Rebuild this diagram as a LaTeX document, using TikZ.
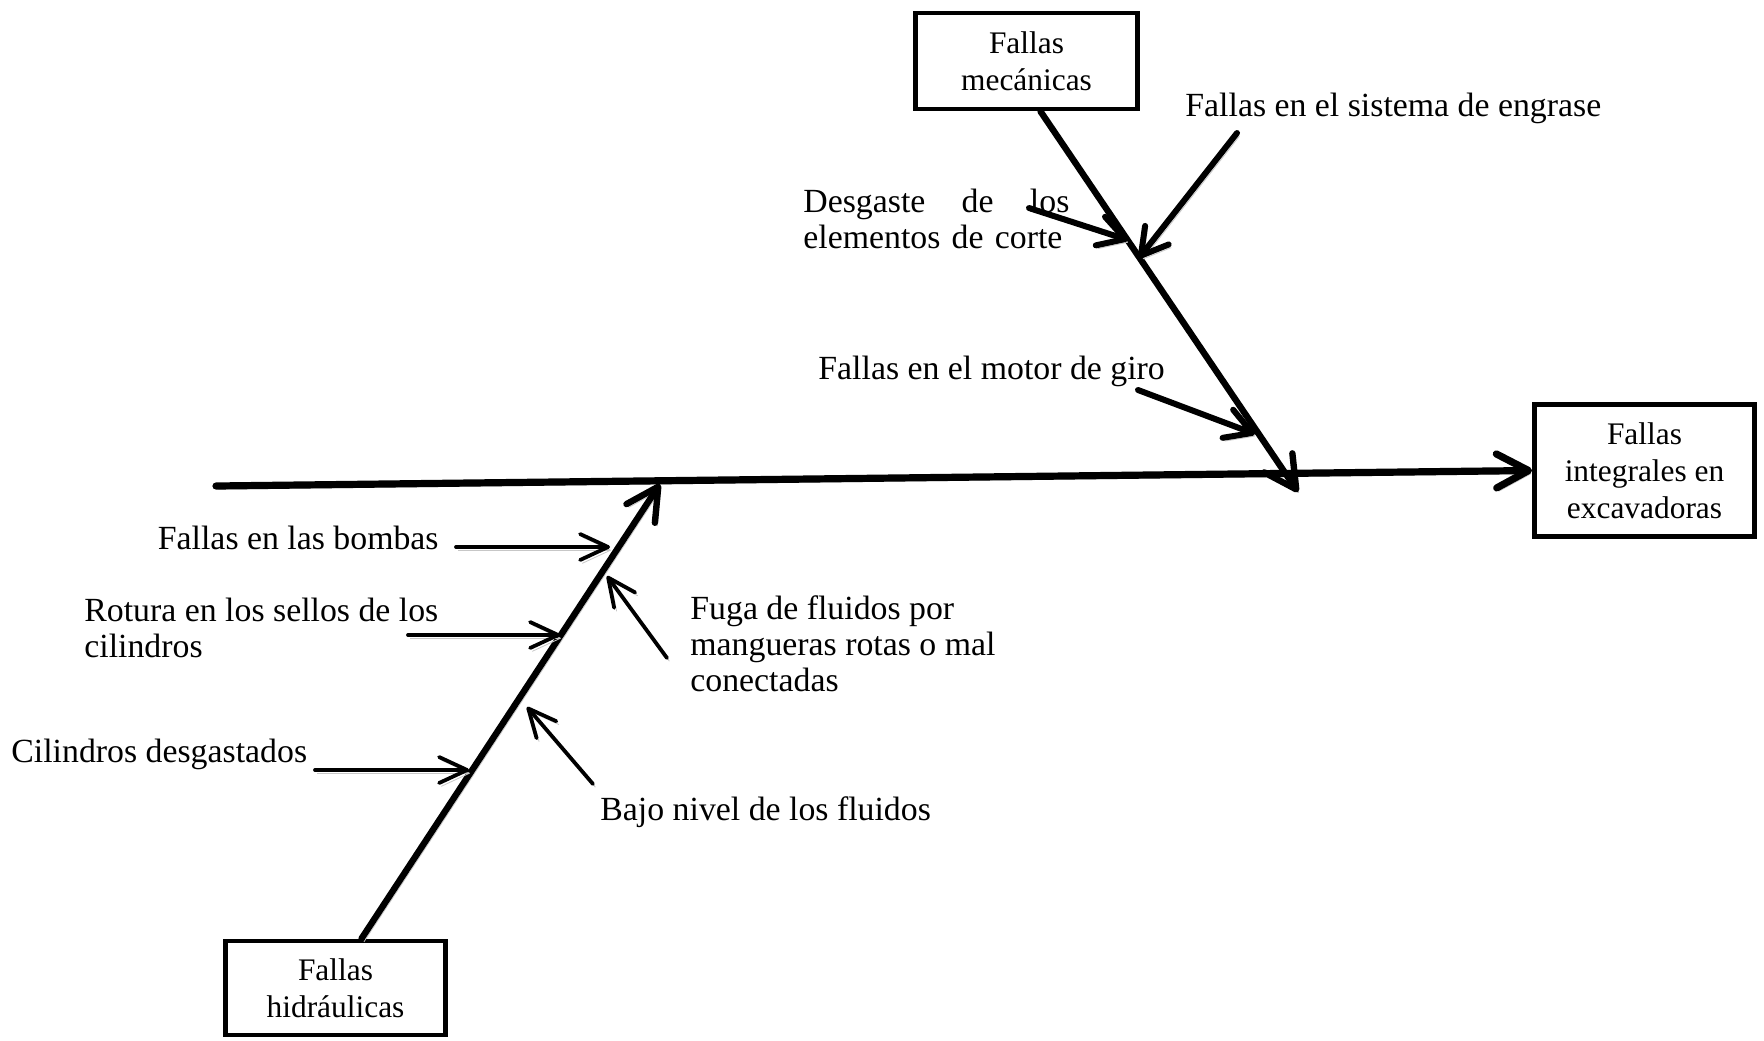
\documentclass[tikz,border=0pt]{standalone}
\usepackage{fontspec}
\setmainfont{Liberation Serif}
\usetikzlibrary{arrows.meta,calc}

\tikzset{
  box/.style={draw, line width=2.4pt, inner sep=0pt, align=center,
    font=\fontsize{15.7}{18.5}\selectfont},
  lbl/.style={inner sep=0pt, anchor=west, align=left,
    font=\fontsize{16.9}{18}\selectfont},
  shade/.style={preaction={draw=black!22, transform canvas={xshift=1.2pt, yshift=-1.6pt}}},
  spine/.style={shade, line width=3.6pt, line cap=round,
    -{Straight Barb[round, length=16pt, width=17pt]}},
  bone/.style={shade, line width=3.2pt, line cap=round,
    -{Straight Barb[round, length=16pt, width=17pt]}},
  cause/.style={shade, line width=3pt, line cap=round,
    -{Straight Barb[round, length=13pt, width=15pt]}},
  subcause/.style={shade, line width=1.9pt, line cap=round,
    -{Straight Barb[round, length=14pt, width=13pt]}},
}

\begin{document}
\begin{tikzpicture}[x=0.5pt, y=-0.5pt]
  \useasboundingbox[fill=white] (0,0) rectangle (1764,1040);

  % effect and the two main categories
  \node[box, minimum width=110pt, minimum height=66pt] (eff) at (1644.5,470.5)
    {Fallas\\integrales en\\excavadoras};
  \node[box, minimum width=111pt, minimum height=48pt] (mec) at (1026.5,61)
    {Fallas\\mecánicas};
  \node[box, minimum width=110pt, minimum height=47pt] (hid) at (335.5,988)
    {Fallas\\hidráulicas};

  % spine and category bones
  \coordinate (tail) at (216,486);
  \coordinate (mtip) at (1298,492);
  \coordinate (htip) at (660,484);
  \draw[spine] (tail) -- (eff.west);
  \draw[bone] ([xshift=7pt]mec.south) -- (mtip);
  \draw[bone] ([xshift=13pt]hid.north) -- (htip);

  % mechanical causes
  \node[lbl] (engr) at (1185,108) {Fallas en el sistema de engrase};
  \node[lbl, text width=133pt] (desg) at (803,219)
    {Desgaste\hfill de\hfill los\\elementos de corte};
  \node[lbl] (giro) at (818,371) {Fallas en el motor de giro};

  \coordinate (engrA) at (1237,133);  \coordinate (engrB) at (1139,258);
  \coordinate (desgA) at (1029,208);  \coordinate (desgB) at (1128,240);
  \coordinate (giroA) at (1138,390);  \coordinate (giroB) at (1255,434);
  \draw[cause] (engrA) -- (engrB);
  \draw[cause] (desgA) -- (desgB);
  \draw[cause] (giroA) -- (giroB);

  % hydraulic causes
  \node[lbl] (bomb) at (157.5,538) {Fallas en las bombas};
  \node[lbl] (sell) at (84,628) {Rotura en los sellos de los\\cilindros};
  \node[lbl] (cili) at (11,754) {Cilindros desgastados};
  \node[lbl] (fuga) at (690,644) {Fuga de fluidos por\\mangueras rotas o mal\\conectadas};
  \node[lbl] (bajo) at (600,812) {Bajo nivel de los fluidos};

  \coordinate (bombA) at (456,547);  \coordinate (bombB) at (610,547);
  \coordinate (sellA) at (408,635);  \coordinate (sellB) at (560,635);
  \coordinate (ciliA) at (315,770);  \coordinate (ciliB) at (469,770);
  \coordinate (fugaA) at (667,658);  \coordinate (fugaB) at (607,576);
  \coordinate (bajoA) at (593,784);  \coordinate (bajoB) at (527,707);
  \draw[subcause] (bombA) -- (bombB);
  \draw[subcause] (sellA) -- (sellB);
  \draw[subcause] (ciliA) -- (ciliB);
  \draw[subcause] (fugaA) -- (fugaB);
  \draw[subcause] (bajoA) -- (bajoB);
\end{tikzpicture}
\end{document}
